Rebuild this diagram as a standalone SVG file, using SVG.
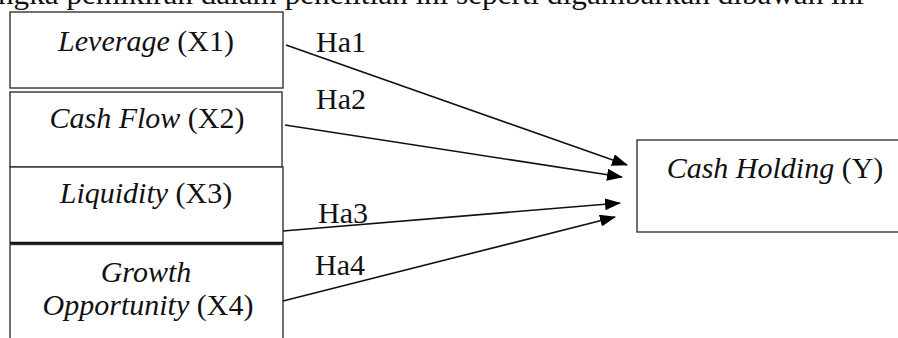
<svg xmlns="http://www.w3.org/2000/svg" width="898" height="338" viewBox="0 0 898 338">
<style>
.box{fill:#fff;stroke:#333;stroke-width:1.4}
.t{font-family:"Liberation Serif","Times New Roman",serif;font-size:30px;fill:#111}
.i{font-style:italic}
.c{text-anchor:middle}
.ln{stroke:#111;stroke-width:1.6;fill:none;marker-end:url(#ah)}
</style>
<defs>
<marker id="ah" markerWidth="16" markerHeight="12" refX="15" refY="6" orient="auto" markerUnits="userSpaceOnUse">
<path d="M0,0 L16,6 L0,12 Z" fill="#000"/>
</marker>
</defs>
<rect width="898" height="338" fill="#fff"/>
<text class="t" x="-2" y="4" textLength="866" lengthAdjust="spacingAndGlyphs">ngka pemikiran dalam penelitian ini seperti digambarkan dibawah ini</text>
<g id="x1">
<rect class="box" x="10" y="12" width="273" height="76"/>
<text class="t c" x="146" y="51"><tspan class="i">Leverage</tspan> (X1)</text>
</g>
<g id="x2">
<rect class="box" x="10" y="92" width="272" height="75"/>
<text class="t c" x="147" y="128"><tspan class="i">Cash Flow</tspan> (X2)</text>
</g>
<g id="x3">
<rect class="box" x="10" y="167" width="273" height="76"/>
<line x1="10" y1="243" x2="283" y2="243" stroke="#111" stroke-width="2.6"/>
<text class="t c" x="146" y="203"><tspan class="i">Liquidity</tspan> (X3)</text>
</g>
<g id="x4">
<rect class="box" x="10" y="244.5" width="273" height="110"/>
<text class="t c i" x="146" y="282">Growth</text>
<text class="t c" x="148" y="315"><tspan class="i">Opportunity</tspan> (X4)</text>
</g>
<g id="y">
<rect class="box" x="637" y="140" width="270" height="92"/>
<text class="t c" x="775" y="178"><tspan class="i">Cash Holding</tspan> (Y)</text>
</g>
<g id="connectors">
<line class="ln" x1="286" y1="45" x2="627" y2="165"/>
<line class="ln" x1="285" y1="125" x2="622" y2="177"/>
<line class="ln" x1="283" y1="231" x2="620" y2="203"/>
<line class="ln" x1="283" y1="301" x2="615" y2="217"/>
<text class="t" x="316" y="52">Ha1</text>
<text class="t" x="316" y="109">Ha2</text>
<text class="t" x="318" y="223">Ha3</text>
<text class="t" x="315" y="275">Ha4</text>
</g>
</svg>
